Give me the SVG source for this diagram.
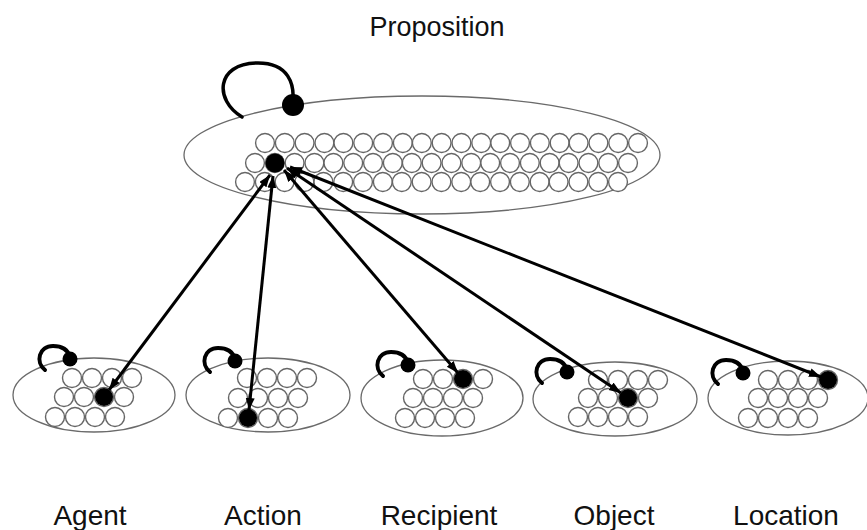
<svg xmlns="http://www.w3.org/2000/svg" width="867" height="530" viewBox="0 0 867 530">
  <style>
    .pool { fill: none; stroke: #6a6a6a; stroke-width: 1.3; }
    .unit { fill: #ffffff; stroke: #666666; stroke-width: 1.4; }
    .active { fill: #000000; }
    .loop { fill: none; stroke: #000000; stroke-width: 3.5; stroke-linecap: round; }
    .loop.small { stroke-width: 4; }
    .link { fill: none; stroke: #000000; stroke-width: 3; marker-start: url(#head); marker-end: url(#head); }
    .label { font-family: "Liberation Sans", Arial, sans-serif; fill: #111111; text-anchor: middle; }
  </style>
  <defs>
    <marker id="head" markerUnits="userSpaceOnUse" markerWidth="14" markerHeight="10" refX="12" refY="4.5" orient="auto-start-reverse">
      <path d="M0,0 L12,4.5 L0,9 z" fill="#000000"/>
    </marker>
    <!-- one row of small units, 20px pitch -->
    <g id="row4">
      <circle class="unit" cx="0" cy="0" r="9.5"/>
      <circle class="unit" cx="20" cy="0" r="9.5"/>
      <circle class="unit" cx="40" cy="0" r="9.5"/>
      <circle class="unit" cx="60" cy="0" r="9.5"/>
    </g>
    <g id="row20">
      <use href="#row4" x="0"/>
      <use href="#row4" x="79.2"/>
      <use href="#row4" x="158.4"/>
      <use href="#row4" x="237.6"/>
      <use href="#row4" x="316.8"/>
    </g>
    <!-- small recurrent loop, drawn relative to its terminal dot -->
    <g id="smallLoop">
      <path class="loop small" d="M -25 11 C -35 3, -31 -13, -17 -13 C -8 -13, -2 -9, 0 -2"/>
      <circle class="active" cx="0" cy="0" r="7.5"/>
    </g>
  </defs>

  <rect width="867" height="530" fill="#ffffff"/>

  <!-- top-level proposition pool -->
  <g id="proposition">
    <text class="label" x="437" y="36" font-size="27">Proposition</text>
    <ellipse class="pool" cx="422" cy="155" rx="238" ry="59"/>
    <g transform="translate(265,143) scale(0.99,1)"><use href="#row20"/></g>
    <g transform="translate(255,163) scale(0.99,1)"><use href="#row20"/></g>
    <g transform="translate(245,182) scale(0.99,1)"><use href="#row20"/></g>
    <circle class="active" cx="275" cy="163" r="9.5"/>
    <path class="loop" d="M 242 117 C 214 100, 216 64, 256 63 C 290 62, 294 86, 293 100"/>
    <circle class="active" cx="293" cy="105" r="11"/>
  </g>

  <!-- role pools -->
  <g id="agent">
    <ellipse class="pool" cx="94" cy="395" rx="81" ry="37"/>
    <use href="#row4" x="72" y="378"/>
    <use href="#row4" x="64" y="397"/>
    <use href="#row4" x="55" y="417"/>
    <circle class="active" cx="104" cy="397" r="9"/>
    <use href="#smallLoop" x="70" y="359"/>
    <text class="label" x="90" y="525" font-size="28">Agent</text>
  </g>

  <g id="action">
    <ellipse class="pool" cx="268" cy="395" rx="82" ry="37"/>
    <use href="#row4" x="247" y="378"/>
    <use href="#row4" x="238" y="398"/>
    <use href="#row4" x="228" y="418"/>
    <circle class="active" cx="248" cy="418" r="9"/>
    <use href="#smallLoop" x="235" y="361"/>
    <text class="label" x="263" y="525" font-size="28">Action</text>
  </g>

  <g id="recipient">
    <ellipse class="pool" cx="442" cy="398" rx="81" ry="38"/>
    <use href="#row4" x="423" y="379"/>
    <use href="#row4" x="413" y="398"/>
    <use href="#row4" x="405" y="418"/>
    <circle class="active" cx="463" cy="379" r="9"/>
    <use href="#smallLoop" x="408" y="365"/>
    <text class="label" x="439" y="525" font-size="28">Recipient</text>
  </g>

  <g id="object">
    <ellipse class="pool" cx="615" cy="399" rx="82" ry="37"/>
    <use href="#row4" x="598" y="380"/>
    <use href="#row4" x="588" y="398"/>
    <use href="#row4" x="578" y="417"/>
    <circle class="active" cx="628" cy="398" r="9"/>
    <use href="#smallLoop" x="567" y="372"/>
    <text class="label" x="614" y="525" font-size="28">Object</text>
  </g>

  <g id="location">
    <ellipse class="pool" cx="788" cy="398" rx="80" ry="37"/>
    <use href="#row4" x="768" y="380"/>
    <use href="#row4" x="758" y="398"/>
    <use href="#row4" x="748" y="418"/>
    <circle class="active" cx="828" cy="380" r="9"/>
    <use href="#smallLoop" x="743" y="373"/>
    <text class="label" x="786" y="525" font-size="28">Location</text>
  </g>

  <!-- bidirectional links between role units and the proposition unit -->
  <g id="connectors">
    <path class="link" d="M 109 390 L 270 175"/>
    <path class="link" d="M 249 410 L 273 176"/>
    <path class="link" d="M 458 373 L 284 170"/>
    <path class="link" d="M 621 393 L 287 168"/>
    <path class="link" d="M 821 377 L 290 167"/>
  </g>
</svg>
